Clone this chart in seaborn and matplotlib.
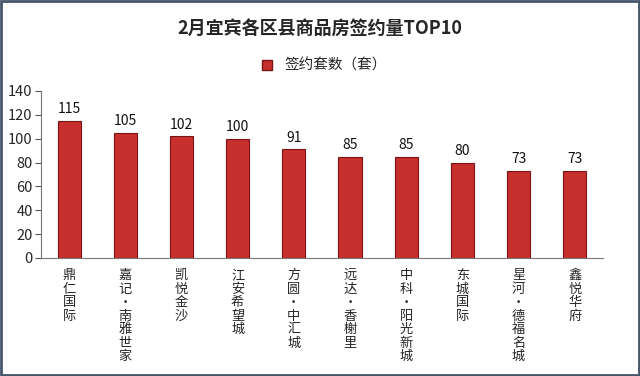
import matplotlib
matplotlib.use("Agg")
import matplotlib.pyplot as plt
import seaborn as sns
import pandas as pd
import numpy as np
from matplotlib.patches import Rectangle
from matplotlib.lines import Line2D

categories = ["鼎仁国际", "嘉记·南雅世家", "凯悦金沙", "江安希望城", "方圆·中汇城",
              "远达·香榭里", "中科·阳光新城", "东城国际", "星河·德福名城", "鑫悦华府"]
values = [115, 105, 102, 100, 91, 85, 85, 80, 73, 73]
series_name = "签约套数（套）"
title = "2月宜宾各区县商品房签约量TOP10"
yticks = [0, 20, 40, 60, 80, 100, 120, 140]

sns.set_style("white")
plt.rcParams['font.family'] = ['Noto Sans CJK SC', 'DejaVu Sans']

fig = plt.figure(figsize=(6.4, 3.76), dpi=100)
ax = fig.add_axes([0.064, 0.314, 0.878, 0.444])

df = pd.DataFrame({"name": categories, "v": values})
sns.barplot(data=df, x="name", y="v", color="#C8302E", edgecolor="#7A1414",
            linewidth=0.8, width=0.41, saturation=1, ax=ax)

for i, v in enumerate(values):
    ax.text(i, v + 4, str(v), ha="center", va="bottom", fontsize=10, color="#111111")

ax.set_ylim(0, 140)
ax.set_xlim(-0.5, len(categories) - 0.5)
ax.set_yticks(yticks)
ax.set_yticklabels([str(t) for t in yticks], fontsize=10.5)
ax.set_xlabel("")
ax.set_ylabel("")

vert_labels = ["\n".join(list(c)) for c in categories]
ax.set_xticks(range(len(categories)))
ax.set_xticklabels(vert_labels, fontsize=9.5, linespacing=1.05, va="top")
ax.tick_params(axis="x", length=0, pad=8)
ax.set_xticks(np.arange(-0.5, len(categories), 1.0), minor=True)
ax.tick_params(axis="x", which="minor", length=4, direction="out", color="#555555")
ax.tick_params(axis="y", length=4, direction="out", color="#555555", pad=2, left=True)

for s in ["top", "right"]:
    ax.spines[s].set_visible(False)
for s in ["left", "bottom"]:
    ax.spines[s].set_color("#777777")
    ax.spines[s].set_linewidth(0.8)

fig.text(0.5, 0.922, title, ha="center", va="center", fontsize=13, fontweight="bold")

handle = Line2D([], [], marker="s", linestyle="", markersize=7,
                markerfacecolor="#C8302E", markeredgecolor="#7A1414")
fig.legend([handle], [series_name], loc="center", bbox_to_anchor=(0.5, 0.825),
           frameon=False, fontsize=10.5, handletextpad=0.2, borderaxespad=0)

fig.patches.append(Rectangle((0.002, 0.003), 0.996, 0.994, transform=fig.transFigure,
                             fill=False, edgecolor="#46566A", linewidth=2))

fig.savefig("out.png", dpi=100, facecolor="white")
